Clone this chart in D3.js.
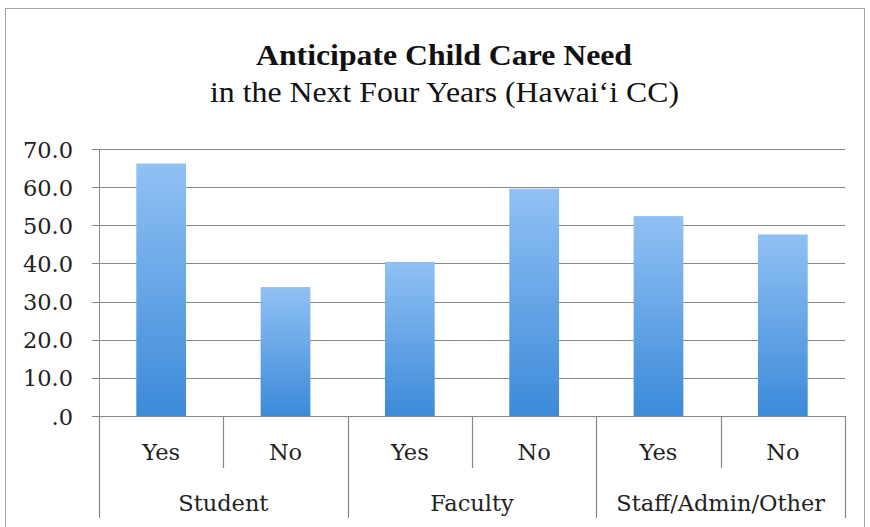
<!DOCTYPE html>
<html><head><meta charset="utf-8">
<script src="https://cdn.jsdelivr.net/npm/d3@7"></script>
<style>body{margin:0;background:#fff}svg{display:block}</style>
</head><body>
<svg id="c" width="870" height="527"></svg>
<script>
const groups = ["Student", "Faculty", "Staff/Admin/Other"];
const answers = ["Yes", "No"];
const values = [66.2, 33.8, 40.4, 59.6, 52.4, 47.6];
const yTicks = [0, 10, 20, 30, 40, 50, 60, 70];
const titleText = "Anticipate Child Care Need";
const subtitleText = "in the Next Four Years (Hawai\u2018i CC)";

const data = [];
groups.forEach((g, gi) => answers.forEach((a, ai) => data.push({key: g + "|" + a, group: g, answer: a, value: values[gi * answers.length + ai]})));

const svg = d3.select("#c");
const L = 99, R = 845, T = 149, B = 416;
const x = d3.scaleBand().domain(data.map(d => d.key)).range([L, R]).paddingInner(0.6).paddingOuter(0.3);
const y = d3.scaleLinear().domain([0, 70]).range([B, T]);

const defs = svg.append("defs");
const grad = defs.append("linearGradient").attr("id", "bg").attr("x1", 0).attr("y1", 0).attr("x2", 0).attr("y2", 1);
grad.append("stop").attr("offset", "0%").attr("stop-color", "#90c1f4");
grad.append("stop").attr("offset", "100%").attr("stop-color", "#3c8ad9");

// outer border
svg.append("rect").attr("x", 5.5).attr("y", 8.5).attr("width", 859).attr("height", 530)
  .attr("fill", "#fff").attr("stroke", "#a6a6a6");

// title
svg.append("text").attr("x", 444).attr("y", 65).attr("text-anchor", "middle")
  .attr("font-family", "Liberation Serif").attr("font-weight", "bold").attr("font-size", 30)
  .attr("textLength", 376).attr("lengthAdjust", "spacingAndGlyphs").attr("fill", "#111").text(titleText);
svg.append("text").attr("x", 444.5).attr("y", 102).attr("text-anchor", "middle")
  .attr("font-family", "Liberation Serif").attr("font-size", 30)
  .attr("textLength", 469).attr("lengthAdjust", "spacingAndGlyphs").attr("fill", "#111").text(subtitleText);

// gridlines
svg.append("g").selectAll("line").data(yTicks).join("line")
  .attr("x1", L - 7).attr("x2", R).attr("y1", d => Math.round(y(d)) + 0.5).attr("y2", d => Math.round(y(d)) + 0.5)
  .attr("stroke", "#878787").attr("stroke-width", 1.2);

// y axis
const yAxis = d3.axisLeft(y).tickValues(yTicks).tickSize(0).tickPadding(26)
  .tickFormat(d => d === 0 ? ".0" : d3.format(".1f")(d));
const gy = svg.append("g").attr("transform", `translate(${L},0)`).call(yAxis);
gy.select(".domain").attr("stroke", "#878787").attr("d", `M0.5,${T}V${B}`);
gy.selectAll("text").attr("font-family", "DejaVu Serif").attr("font-size", 22.5).attr("fill", "#222").attr("dy", "0.36em");

// bars
svg.append("g").selectAll("rect").data(data).join("rect")
  .attr("x", d => x(d.key)).attr("width", x.bandwidth())
  .attr("y", d => y(d.value)).attr("height", d => y(0) - y(d.value))
  .attr("fill", "url(#bg)");

// category separators
const step = x.step();
const x0 = x.range()[0];
const nb = data.length;
const seps = d3.range(nb + 1).map(i => ({xp: x0 + i * step, major: i % answers.length === 0}));
svg.append("g").selectAll("line").data(seps).join("line")
  .attr("x1", d => Math.round(d.xp) + 0.5).attr("x2", d => Math.round(d.xp) + 0.5)
  .attr("y1", B).attr("y2", d => d.major ? 518 : 468)
  .attr("stroke", "#878787").attr("stroke-width", 1.2);

// answer labels
svg.append("g").selectAll("text").data(data).join("text")
  .attr("x", d => x(d.key) + x.bandwidth() / 2).attr("y", 460).attr("text-anchor", "middle")
  .attr("font-family", "DejaVu Serif").attr("font-size", 22.5).attr("fill", "#222").text(d => d.answer);

// group labels
svg.append("g").selectAll("text").data(groups).join("text")
  .attr("x", (g, i) => x0 + (i + 0.5) * answers.length * step).attr("y", 511).attr("text-anchor", "middle")
  .attr("font-family", "DejaVu Serif").attr("font-size", 22.5).attr("fill", "#222").text(g => g);
</script>
</body></html>
